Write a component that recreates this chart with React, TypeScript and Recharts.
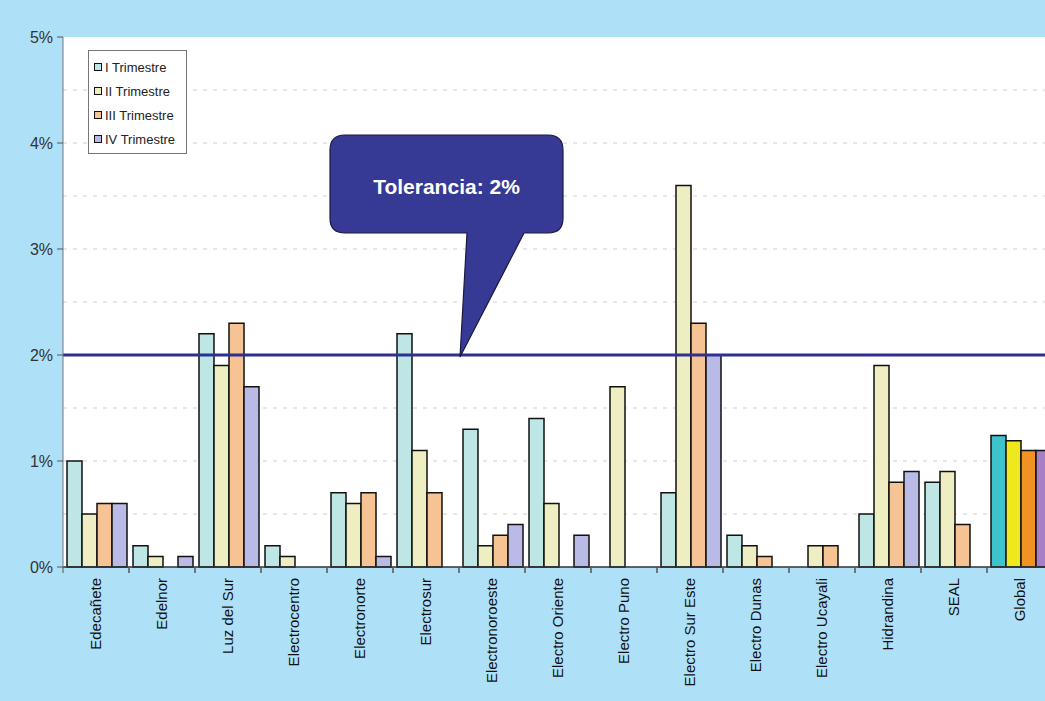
import { BarChart, Bar, XAxis, YAxis, CartesianGrid, Legend, ReferenceLine, Cell } from "recharts";

const categories = [
  "Edecañete", "Edelnor", "Luz del Sur", "Electrocentro", "Electronorte", "Electrosur",
  "Electronoroeste", "Electro Oriente", "Electro Puno", "Electro Sur Este", "Electro Dunas",
  "Electro Ucayali", "Hidrandina", "SEAL", "Global",
];
const trimestreI = [1.0, 0.2, 2.2, 0.2, 0.7, 2.2, 1.3, 1.4, 0, 0.7, 0.3, 0, 0.5, 0.8, 1.24];
const trimestreII = [0.5, 0.1, 1.9, 0.1, 0.6, 1.1, 0.2, 0.6, 1.7, 3.6, 0.2, 0.2, 1.9, 0.9, 1.19];
const trimestreIII = [0.6, 0, 2.3, 0, 0.7, 0.7, 0.3, 0, 0, 2.3, 0.1, 0.2, 0.8, 0.4, 1.1];
const trimestreIV = [0.6, 0.1, 1.7, 0, 0.1, 0, 0.4, 0.3, 0, 2.0, 0, 0, 0.9, 0, 1.1];
const yTicks = [0, 1, 2, 3, 4, 5];
const gridValues = [0.5, 1, 1.5, 2.5, 3, 3.5, 4, 4.5];
const tolerancia = 2;

const series = [
  { key: "t1", name: "I Trimestre", fill: "#bde6e4", globalFill: "#3ec2cb" },
  { key: "t2", name: "II Trimestre", fill: "#eeeec2", globalFill: "#eee81e" },
  { key: "t3", name: "III Trimestre", fill: "#f5c394", globalFill: "#f19224" },
  { key: "t4", name: "IV Trimestre", fill: "#babae6", globalFill: "#a67fc7" },
];

const data = categories.map((c, i) => ({
  name: c,
  t1: trimestreI[i],
  t2: trimestreII[i],
  t3: trimestreIII[i],
  t4: trimestreIV[i],
}));

const font = "'Liberation Sans', Arial, sans-serif";

function XTick(props: any) {
  const { x, y, payload } = props;
  const half = payload?.offset ?? 33;
  return (
    <g>
      <line x1={x - half} x2={x - half} y1={y - 8} y2={y - 2} stroke="#555" />
      <line x1={x + half} x2={x + half} y1={y - 8} y2={y - 2} stroke="#555" />
      <text
        x={x}
        y={y + 3}
        transform={`rotate(-90, ${x}, ${y + 3})`}
        textAnchor="end"
        dy="0.35em"
        fontSize={15}
        fontFamily={font}
        fill="#111"
      >
        {payload.value}
      </text>
    </g>
  );
}

function LegendBox(props: any) {
  const items = props.payload || [];
  return (
    <div
      style={{
        background: "#fff",
        border: "1px solid #777",
        padding: "4px 4px 2px 5px",
        fontFamily: font,
        fontSize: 13,
        color: "#222",
        width: 88,
        textAlign: "left",
      }}
    >
      {items.map((p: any) => (
        <div key={p.value} style={{ display: "flex", alignItems: "center", height: 24, whiteSpace: "nowrap" }}>
          <span
            style={{
              width: 6,
              height: 6,
              background: p.color,
              border: "1.5px solid #111",
              marginRight: 3,
              display: "inline-block",
              flexShrink: 0,
            }}
          />
          {p.value}
        </div>
      ))}
    </div>
  );
}

function Callout(props: any) {
  const { viewBox } = props;
  if (!viewBox) return null;
  const tipX = viewBox.x + 397;
  const tipY = viewBox.y + 2;
  const bx = viewBox.x + 267;
  const by = viewBox.y - 220;
  const w = 233;
  const h = 98;
  const r = 15;
  const b1 = viewBox.x + 404;
  const b2 = viewBox.x + 461;
  const d = [
    `M ${bx + r} ${by}`,
    `L ${bx + w - r} ${by}`,
    `Q ${bx + w} ${by} ${bx + w} ${by + r}`,
    `L ${bx + w} ${by + h - r}`,
    `Q ${bx + w} ${by + h} ${bx + w - r} ${by + h}`,
    `L ${b2} ${by + h}`,
    `L ${tipX} ${tipY}`,
    `L ${b1} ${by + h}`,
    `L ${bx + r} ${by + h}`,
    `Q ${bx} ${by + h} ${bx} ${by + h - r}`,
    `L ${bx} ${by + r}`,
    `Q ${bx} ${by} ${bx + r} ${by}`,
    "Z",
  ].join(" ");
  return (
    <g>
      <path d={d} fill="#363a94" stroke="#1a1a40" strokeWidth={1.2} />
      <text
        x={bx + w / 2}
        y={by + 59}
        textAnchor="middle"
        fill="#fff"
        fontWeight="bold"
        fontSize={21}
        fontFamily={font}
      >
        Tolerancia: 2%
      </text>
    </g>
  );
}

export default function App() {
  return (
    <div
      style={{
        position: "absolute",
        left: 0,
        top: 0,
        width: 1045,
        height: 701,
        overflow: "hidden",
        background: "#aee0f8",
      }}
    >
      <BarChart
        width={1053}
        height={701}
        data={data}
        margin={{ top: 37, right: 0, bottom: 0, left: 0 }}
        barCategoryGap={4}
        barGap={0}
      >
        <CartesianGrid
          vertical={false}
          horizontalValues={gridValues}
          stroke="#cfcfcf"
          strokeDasharray="4 6"
          fill="#ffffff"
          fillOpacity={1}
        />
        <XAxis
          dataKey="name"
          interval={0}
          height={134}
          tick={<XTick />}
          tickLine={false}
          axisLine={{ stroke: "#333", strokeWidth: 1.5 }}
        />
        <YAxis
          domain={[0, 5]}
          ticks={yTicks}
          width={63}
          tickSize={6}
          tickMargin={4}
          tickFormatter={(v: number) => `${v}%`}
          tick={{ fontSize: 16, fontFamily: font, fill: "#333" }}
          axisLine={{ stroke: "#777" }}
          tickLine={{ stroke: "#555" }}
        />
        <Legend
          layout="vertical"
          verticalAlign="middle"
          align="center"
          content={<LegendBox />}
          wrapperStyle={{ left: 88, top: 50, width: 98 }}
        />
        {series.map((s) => (
          <Bar
            key={s.key}
            dataKey={s.key}
            name={s.name}
            fill={s.fill}
            stroke="#111"
            strokeWidth={1.5}
            isAnimationActive={false}
          >
            {data.map((d, i) => (
              <Cell key={d.name} fill={i === data.length - 1 ? s.globalFill : s.fill} />
            ))}
          </Bar>
        ))}
        <ReferenceLine
          y={tolerancia}
          stroke="#2e3192"
          strokeWidth={3}
          label={<Callout />}
        />
      </BarChart>
    </div>
  );
}
